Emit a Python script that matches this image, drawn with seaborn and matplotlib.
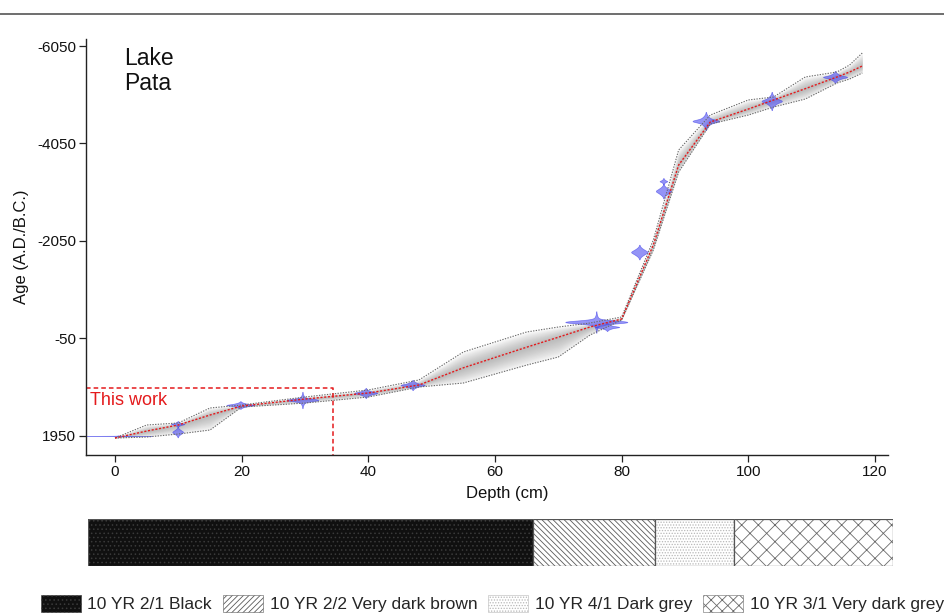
import numpy as np
import pandas as pd
import matplotlib
matplotlib.use("Agg")
import matplotlib.pyplot as plt
import seaborn as sns
from matplotlib.patches import Rectangle, Patch
from matplotlib.lines import Line2D

# ---- age-depth model (depth in cm, age in calendar years A.D., B.C. negative)
depth_grid = [0, 5, 10, 15, 20, 30, 40, 48, 55, 65, 70, 75, 80, 85, 89, 94,
              100, 104, 109, 114, 116, 118]
age_median = [1997, 1854, 1730, 1525, 1340, 1197, 1073, 909, 556, 133, -72,
              -282, -446, -1965, -3607, -4490, -4756, -4942, -5174, -5414,
              -5517, -5640]
age_oldest = [1997, 1730, 1689, 1381, 1320, 1155, 1011, 806, 232, -179, -281,
              -363, -487, -2067, -3914, -4633, -4942, -5003, -5414, -5517,
              -5660, -5907]
age_youngest = [1997, 1977, 1915, 1833, 1361, 1279, 1155, 950, 868, 500, 334,
                -117, -425, -1862, -3463, -4448, -4633, -4798, -4962, -5291,
                -5373, -5496]

# ---- calibrated dates: depth, modal age, spread (yr), peak half-width (cm), peak share
date_depth = [0.5, 9.9, 9.9, 19.8, 29.6, 39.6, 47.0, 76.0, 77.7, 82.8, 86.6,
              86.6, 93.3, 103.7, 113.7]
date_age = [1955, 1710, 1874, 1320, 1217, 1073, 909, -384, -282, -1820, -3073,
            -3275, -4510, -4921, -5414]
date_sd = [5, 24, 42, 30, 65, 40, 40, 85, 32, 58, 58, 26, 72, 72, 48]
date_width = [5.3, 1.05, 0.85, 2.2, 2.5, 1.8, 1.9, 4.9, 1.9, 1.3, 1.2, 0.6, 2.1,
              1.6, 1.9]
date_peak = [0.9, 0.3, 0.1, 0.3, 0.8, 0.35, 0.35, 0.9, 0.4, 0.15, 0.15, 0.3, 0.55,
             0.4, 0.4]

# ---- sediment column (cm along the strip)
layer_top = [0.0, 70.3, 89.6, 102.0]
layer_bottom = [70.3, 89.6, 102.0, 127.1]
layer_names = ["10 YR 2/1 Black", "10 YR 2/2 Very dark brown",
               "10 YR 4/1 Dark grey", "10 YR 3/1 Very dark grey"]

y_ticks = [-6050, -4050, -2050, -50, 1950]
x_ticks = [0, 20, 40, 60, 80, 100, 120]

sns.set_theme(style="ticks")
plt.rcParams["font.family"] = ["Liberation Sans", "DejaVu Sans"]
plt.rcParams["hatch.linewidth"] = 0.6

W, H = 945, 615
fig = plt.figure(figsize=(W / 100, H / 100), dpi=100)
ax = fig.add_axes([86 / W, 1 - 455 / H, (888 - 86) / W, (455 - 39) / H])

model = pd.DataFrame({"depth": depth_grid, "median": age_median,
                      "old": age_oldest, "young": age_youngest})
med = model["median"].to_numpy(float)
old = model["old"].to_numpy(float)
young = model["young"].to_numpy(float)

# grey envelope, darker towards the median
for f in np.linspace(1.0, 0.06, 14):
    ax.fill_between(model["depth"], med + f * (old - med), med + f * (young - med),
                    color="#8c8c8c", alpha=0.055, linewidth=0)
for col in ["old", "young"]:
    sns.lineplot(data=model, x="depth", y=col, sort=False, ax=ax, color="#6a6a6a",
                 linewidth=0.8, linestyle=(0, (1.2, 1.2)))
sns.lineplot(data=model, x="depth", y="median", sort=False, ax=ax,
             color="#e41a1c", linewidth=1.0, linestyle=(0, (1.5, 1.2)))

# calibrated date distributions
for d, mu, sd, hw, pk in zip(date_depth, date_age, date_sd, date_width, date_peak):
    a = np.linspace(mu - 2.6 * sd, mu + 2.6 * sd, 300)
    z = (a - mu) / sd
    w = hw * (pk * np.exp(-0.5 * (z / 0.35) ** 2) + (1 - pk) * np.exp(-0.5 * z ** 2))
    ax.fill_betweenx(a, d - w, d + w, facecolor="#5252f2", alpha=0.62,
                     edgecolor="#4040e8", linewidth=0.5)

# "This work" frame
xmin, xmax = -4.58, 122.06
ybot, ytop = 2346, -6194
frame_x = 34.4
frame_age = 971
ax.plot([xmin, frame_x, frame_x], [frame_age, frame_age, ybot], color="#e41a1c",
        linewidth=1.1, linestyle=(0, (3, 2)), clip_on=False)
ax.text(-3.9, 1230, "This work", color="#e41a1c", fontsize=13, va="center", ha="left")
ax.text(1.4, -6040, "Lake\nPata", fontsize=16.5, va="top", ha="left",
        linespacing=1.15, color="#111")

ax.set_xlim(xmin, xmax)
ax.set_ylim(ybot, ytop)
ax.set_xticks(x_ticks)
ax.set_yticks(y_ticks)
ax.set_xticklabels([str(v) for v in x_ticks])
ax.set_yticklabels([str(v) for v in y_ticks])
ax.tick_params(axis="both", labelsize=11, length=5, width=0.9, color="#222",
               labelcolor="#111", pad=2)
ax.set_xlabel("Depth (cm)", fontsize=12, color="#111", labelpad=4)
ax.xaxis.set_label_coords((507 - 86) / (888 - 86), -0.075)
ax.set_ylabel("Age (A.D./B.C.)", fontsize=12, color="#111", labelpad=6)
sns.despine(ax=ax)
for s in ["left", "bottom"]:
    ax.spines[s].set_color("#222")
    ax.spines[s].set_linewidth(1.0)

# sediment strip
layer_face = ["#101010", "white", "white", "white"]
layer_hatch = ["....", "\\\\\\\\\\\\", "......", "xx"]
layer_hcol = ["#3a3a3a", "#5a5a5a", "#b8b8b8", "#6a6a6a"]
legend_hatch = ["....", "//////", "......", "xxx"]

sax = fig.add_axes([88 / W, 1 - 566 / H, (893 - 88) / W, (566 - 519) / H])
for top, bot, fc, ht, hc in zip(layer_top, layer_bottom, layer_face, layer_hatch,
                                layer_hcol):
    sax.add_patch(Rectangle((top, 0), bot - top, 1, facecolor=fc, hatch=ht,
                            edgecolor=hc, linewidth=0))
    sax.add_patch(Rectangle((top, 0), bot - top, 1, fill=False, edgecolor="#555",
                            linewidth=0.9))
sax.set_xlim(layer_top[0], layer_bottom[-1])
sax.set_ylim(0, 1)
sax.axis("off")

handles = [Patch(facecolor=fc, hatch=ht, edgecolor=hc, linewidth=0.4)
           for fc, ht, hc in zip(layer_face, legend_hatch, layer_hcol)]
fig.legend(handles, layer_names, loc="lower left", bbox_to_anchor=(38 / W, 0.0),
           ncol=4, frameon=False, fontsize=12.5, handlelength=2.3,
           handleheight=1.15, handletextpad=0.4, columnspacing=0.62,
           borderaxespad=0.05, borderpad=0.1)

fig.add_artist(Line2D([0, 1], [1 - 14 / H, 1 - 14 / H], color="#555",
                      linewidth=1.2))

fig.savefig("out.png", dpi=100, facecolor="white")
